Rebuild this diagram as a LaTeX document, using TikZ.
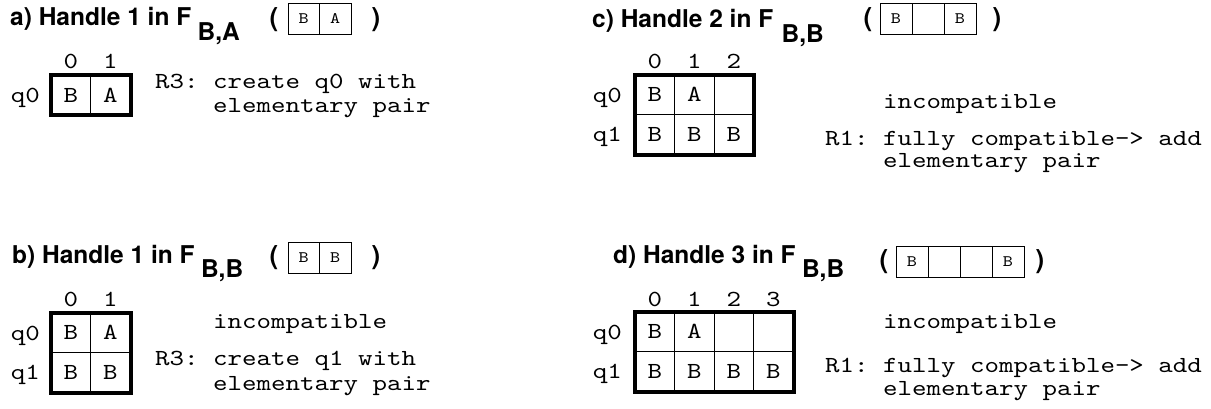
\documentclass[tikz,border=0pt]{standalone}
\usepackage{fontspec}
\setsansfont{TeX Gyre Heros}
\setmonofont[FakeStretch=1.2]{lmmono10-regular.otf}
\begin{document}
\begin{tikzpicture}[x=1pt,y=-1pt,
  ttl/.style={font=\sffamily\bfseries\fontsize{24.5}{28}\selectfont, inner sep=0pt, anchor=base west},
  paren/.style={font=\sffamily\bfseries\fontsize{26}{30}\selectfont, inner sep=0pt},
  txt/.style={font=\ttfamily\fontsize{23}{27}\selectfont, inner sep=0pt, anchor=base west},
  hdr/.style={font=\ttfamily\fontsize{23}{27}\selectfont, inner sep=0pt, anchor=base},
  lbl/.style={font=\ttfamily\fontsize{23}{27}\selectfont, inner sep=0pt, anchor=base east},
  cell/.style={draw, line width=1pt, minimum width=39.5pt, minimum height=39.5pt, inner sep=0pt, font=\ttfamily\fontsize{23}{27}\selectfont},
  scell/.style={draw, line width=0.8pt, minimum width=31.5pt, minimum height=31pt, inner sep=0pt, font=\ttfamily\fontsize{16}{19}\selectfont},
  frame/.style={line width=4pt}
]
\useasboundingbox (0,0) rectangle (1211,408);

% ---------- panel a ----------
\node[ttl] (ta) at (10,25) {a) Handle 1 in F};
\node[ttl] (sa) at ([shift={(6,15)}]ta.base east) {B,A};
\node[paren] (pa1) at (274,20) {(};
\node[scell] (sa0) at (303.75,18.5) {B};
\node[scell] (sa1) at (335.25,18.5) {A};
\node[paren] (pa2) at (376,20) {)};
\node[hdr] (ha0) at (70.75,68) {0};
\node[hdr] (ha1) at (110.25,68) {1};
\node[lbl] (qa0) at (40,102) {q0};
\node[cell] (a00) at (70.75,95) {B};
\node[cell] (a01) at (110.25,95) {A};
\draw[frame] (a00.north west) rectangle (a01.south east);
\node[txt] (ra1) at (155,88) {R3: create q0 with};
\node[txt] (ra2) at (213,112) {elementary pair};

% ---------- panel b ----------
\node[ttl] (tb) at (12,263) {b) Handle 1 in F};
\node[ttl] (sb) at ([shift={(6,14)}]tb.base east) {B,B};
\node[paren] (pb1) at (274,258) {(};
\node[scell] (sb0) at (303.75,257.5) {B};
\node[scell] (sb1) at (335.25,257.5) {B};
\node[paren] (pb2) at (376,258) {)};
\node[hdr] (hb0) at (70.75,306) {0};
\node[hdr] (hb1) at (110.25,306) {1};
\node[lbl] (qb0) at (40,340) {q0};
\node[lbl] (qb1) at (40,379) {q1};
\node[cell] (b00) at (70.75,332.75) {B};
\node[cell] (b01) at (110.25,332.75) {A};
\node[cell] (b10) at (70.75,372.25) {B};
\node[cell] (b11) at (110.25,372.25) {B};
\draw[frame] (b00.north west) rectangle (b11.south east);
\node[txt] (ib) at (213,328) {incompatible};
\node[txt] (rb1) at (155,365) {R3: create q1 with};
\node[txt] (rb2) at (213,390) {elementary pair};

% ---------- panel c ----------
\node[ttl] (tc) at (592,27) {c) Handle 2 in F};
\node[ttl] (sc) at ([shift={(8,15)}]tc.base east) {B,B};
\node[paren] (pc1) at (868,20) {(};
\node[scell, minimum width=32pt] (sc0) at (896,19) {B};
\node[scell, minimum width=32pt] (sc1) at (928,19) {};
\node[scell, minimum width=32pt] (sc2) at (960,19) {B};
\node[paren] (pc2) at (997,20) {)};
\node[hdr] (hc0) at (654.75,68) {0};
\node[hdr] (hc1) at (694.25,68) {1};
\node[hdr] (hc2) at (733.75,68) {2};
\node[lbl] (qc0) at (622,102) {q0};
\node[lbl] (qc1) at (622,141) {q1};
\node[cell] (c00) at (654.75,94.75) {B};
\node[cell] (c01) at (694.25,94.75) {A};
\node[cell] (c02) at (733.75,94.75) {};
\node[cell] (c10) at (654.75,134.25) {B};
\node[cell] (c11) at (694.25,134.25) {B};
\node[cell] (c12) at (733.75,134.25) {B};
\draw[frame] (c00.north west) rectangle (c12.south east);
\node[txt] (ic) at (883,108) {incompatible};
\node[txt] (rc1) at (825,145) {R1: fully compatible-> add};
\node[txt] (rc2) at (883,167) {elementary pair};

% ---------- panel d ----------
\node[ttl] (td) at (613,263) {d) Handle 3 in F};
\node[ttl] (sd) at ([shift={(6,14)}]td.base east) {B,B};
\node[paren] (pd1) at (884,262) {(};
\node[scell, minimum width=32pt] (sd0) at (912,262) {B};
\node[scell, minimum width=32pt] (sd1) at (944,262) {};
\node[scell, minimum width=32pt] (sd2) at (976,262) {};
\node[scell, minimum width=32pt] (sd3) at (1008,262) {B};
\node[paren] (pd2) at (1040,262) {)};
\node[hdr] (hd0) at (654.75,306) {0};
\node[hdr] (hd1) at (694.25,306) {1};
\node[hdr] (hd2) at (733.75,306) {2};
\node[hdr] (hd3) at (773.25,306) {3};
\node[lbl] (qd0) at (622,339) {q0};
\node[lbl] (qd1) at (622,378) {q1};
\node[cell] (d00) at (654.75,331.75) {B};
\node[cell] (d01) at (694.25,331.75) {A};
\node[cell] (d02) at (733.75,331.75) {};
\node[cell] (d03) at (773.25,331.75) {};
\node[cell] (d10) at (654.75,371.25) {B};
\node[cell] (d11) at (694.25,371.25) {B};
\node[cell] (d12) at (733.75,371.25) {B};
\node[cell] (d13) at (773.25,371.25) {B};
\draw[frame] (d00.north west) rectangle (d13.south east);
\node[txt] (id) at (883,328) {incompatible};
\node[txt] (rd1) at (825,372) {R1: fully compatible-> add};
\node[txt] (rd2) at (883,395) {elementary pair};
\end{tikzpicture}
\end{document}
